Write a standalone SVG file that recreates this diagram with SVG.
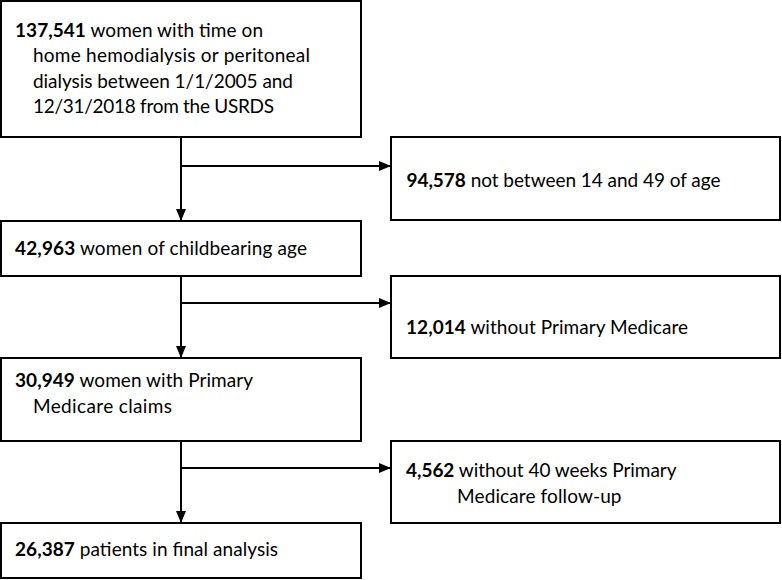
<svg xmlns="http://www.w3.org/2000/svg" width="782" height="580" viewBox="0 0 782 580">
<style>
.box{fill:#fff;stroke:#000;stroke-width:2}
.t{font-family:Lato,"Liberation Sans",sans-serif;font-size:19px;fill:#000}
.b{font-weight:bold}
.c{stroke:#000;stroke-width:2;fill:none}
</style>
<defs>
<marker id="ah" markerUnits="userSpaceOnUse" markerWidth="12" markerHeight="10" refX="12" refY="5" orient="auto">
<path d="M0,0 L12,5 L0,10 z" fill="#000"/>
</marker>
</defs>
<rect width="782" height="580" fill="#fff"/>
<g id="connectors">
<path class="c" d="M181,137 V221" marker-end="url(#ah)"/>
<path class="c" d="M181,166 H391" marker-end="url(#ah)"/>
<path class="c" d="M181,276 V358" marker-end="url(#ah)"/>
<path class="c" d="M181,303 H391" marker-end="url(#ah)"/>
<path class="c" d="M181,441 V523" marker-end="url(#ah)"/>
<path class="c" d="M181,468 H391" marker-end="url(#ah)"/>
</g>
<g id="n1">
<rect class="box" x="1" y="1" width="360" height="136"/>
<text class="t" x="15" y="36.5" textLength="248"><tspan class="b">137,541</tspan> women with time on</text>
<text class="t" x="33" y="62" textLength="277">home hemodialysis or peritoneal</text>
<text class="t" x="33" y="87.5" textLength="260">dialysis between 1/1/2005 and</text>
<text class="t" x="33" y="113" textLength="241">12/31/2018 from the USRDS</text>
</g>
<g id="n2">
<rect class="box" x="391" y="137" width="389" height="83"/>
<text class="t" x="406.5" y="186.5" textLength="314"><tspan class="b">94,578</tspan> not between 14 and 49 of age</text>
</g>
<g id="n3">
<rect class="box" x="1" y="221" width="360" height="55"/>
<text class="t" x="15" y="255" textLength="292"><tspan class="b">42,963</tspan> women of childbearing age</text>
</g>
<g id="n4">
<rect class="box" x="391" y="276" width="389" height="82"/>
<text class="t" x="406" y="334" textLength="282"><tspan class="b">12,014</tspan> without Primary Medicare</text>
</g>
<g id="n5">
<rect class="box" x="1" y="358" width="360" height="83"/>
<text class="t" x="15" y="386.5" textLength="238"><tspan class="b">30,949</tspan> women with Primary</text>
<text class="t" x="33" y="413" textLength="139">Medicare claims</text>
</g>
<g id="n6">
<rect class="box" x="391" y="441" width="389" height="82"/>
<text class="t" x="406" y="477" textLength="270.5"><tspan class="b">4,562</tspan> without 40 weeks Primary</text>
<text class="t" x="457" y="502.5" textLength="164.5">Medicare follow-up</text>
</g>
<g id="n7">
<rect class="box" x="1" y="523" width="360" height="55"/>
<text class="t" x="15" y="555.5" textLength="263"><tspan class="b">26,387</tspan> patients in final analysis</text>
</g>
</svg>
